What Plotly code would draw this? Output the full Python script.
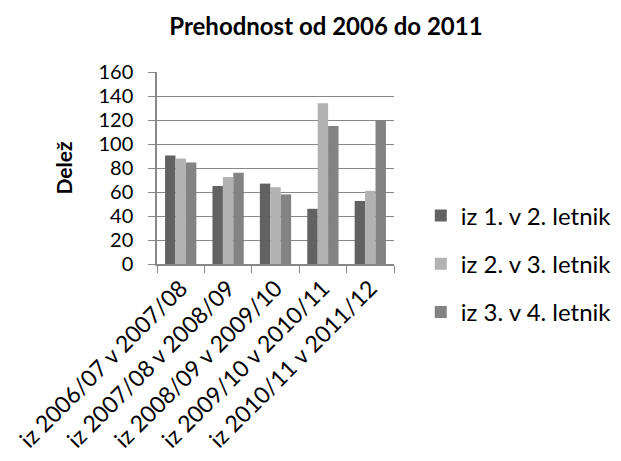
import plotly.graph_objects as go

categories = ["iz 2006/07 v 2007/08", "iz 2007/08 v 2008/09", "iz 2008/09 v 2009/10",
              "iz 2009/10 v 2010/11", "iz 2010/11 v 2011/12"]
series_names = ["iz 1. v 2. letnik", "iz 2. v 3. letnik", "iz 3. v 4. letnik"]
s1 = [90.5, 65, 67, 46, 52.5]
s2 = [88, 72.5, 64, 134, 61]
s3 = [84.5, 76, 58, 115, 120]
colors = ["#626262", "#b2b2b2", "#838383"]

FONT = "Lato"
fig = go.Figure()
for i, (name, vals) in enumerate(zip(series_names, [s1, s2, s3])):
    fig.add_trace(go.Bar(x=categories, y=vals, name=name, marker_color=colors[i],
                         marker_line_width=0, legendgroup=f"g{i}"))

fig.update_layout(
    width=621, height=461,
    margin=dict(l=149, r=232, t=64, b=205),
    paper_bgcolor="white", plot_bgcolor="white",
    barmode="group", bargap=0.34, bargroupgap=0,
    font=dict(family=FONT, size=23, color="black"),
    title=dict(text="<b>Prehodnost od 2006 do 2011</b>", x=0.512, xanchor="center",
               y=0.96, yanchor="middle", font=dict(size=24, family=FONT)),
    legend=dict(x=1.113, xanchor="left", y=0.0, yanchor="middle",
                font=dict(size=24), tracegroupgap=14, itemwidth=30,
                bgcolor="rgba(0,0,0,0)"),
    showlegend=True,
)
fig.update_xaxes(type="category", tickson="boundaries", ticks="outside", ticklen=7,
                 tickcolor="#888888", showline=True, linecolor="#888888", linewidth=1.5,
                 showgrid=False, tickangle=-45, tickfont=dict(size=23), automargin=False)
fig.update_yaxes(range=[0, 160], dtick=20, ticks="outside", ticklen=7, tickcolor="#888888",
                 showline=True, linecolor="#888888", linewidth=1.5,
                 showgrid=True, gridcolor="#888888", gridwidth=1.2, zeroline=False,
                 tickfont=dict(size=20), ticklabelstandoff=11, automargin=False,
                 title=dict(text="<b>Delež</b>", font=dict(size=21), standoff=20))
fig.write_html("out.html")
